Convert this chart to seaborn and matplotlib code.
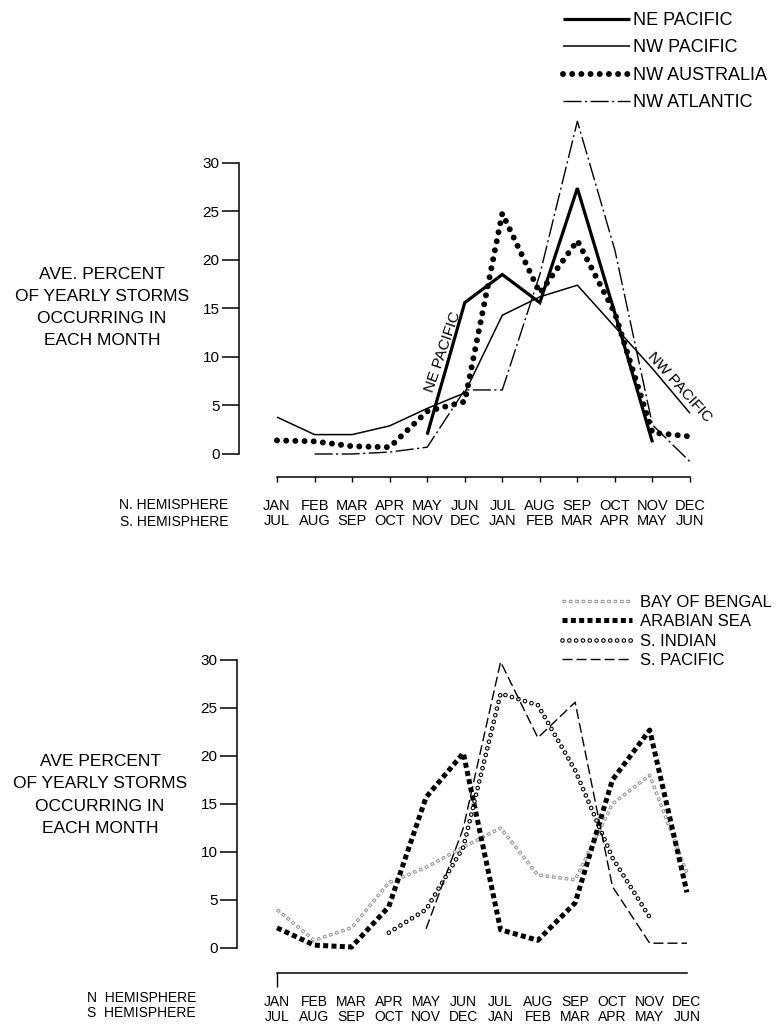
import numpy as np
import pandas as pd
import matplotlib
matplotlib.use("Agg")
import matplotlib.pyplot as plt
import seaborn as sns

nan = np.nan

# Month labels for the two hemispheres (southern season offset by six months)
months_north = ["JAN", "FEB", "MAR", "APR", "MAY", "JUN",
                "JUL", "AUG", "SEP", "OCT", "NOV", "DEC"]
months_south = ["JUL", "AUG", "SEP", "OCT", "NOV", "DEC",
                "JAN", "FEB", "MAR", "APR", "MAY", "JUN"]

# Average percent of yearly storms occurring in each month
ne_pacific = [nan, nan, nan, nan, 2.0, 15.6, 18.5, 15.6, 27.4, 14.5, 1.2, nan]
nw_pacific = [3.8, 2.0, 2.0, 2.9, 4.7, 6.3, 14.3, 16.2, 17.4, 13.1, 8.8, 4.2]
nw_australia = [1.4, 1.3, 0.8, 0.7, 4.4, 5.4, 24.8, 16.6, 22.0, 14.5, 2.2, 1.8]
nw_atlantic = [nan, 0.0, 0.0, 0.2, 0.7, 6.6, 6.6, 18.5, 34.3, 21.0, 3.0, -0.8]

bay_of_bengal = [4.0, 0.8, 2.1, 6.8, 8.4, 10.5, 12.5, 7.6, 7.1, 15.0, 18.0, 7.8]
arabian_sea = [2.1, 0.3, 0.1, 4.3, 15.7, 20.3, 1.9, 0.8, 4.7, 17.5, 22.7, 5.8]
s_indian = [nan, nan, nan, 1.6, 4.0, 10.5, 26.5, 25.3, 18.5, 9.4, 3.2, nan]
s_pacific = [nan, nan, nan, nan, 2.0, 12.5, 29.8, 21.9, 25.6, 6.4, 0.5, 0.5]

y_ticks = [0, 5, 10, 15, 20, 25, 30]

sns.set_theme(style="ticks")
plt.rcParams["font.family"] = ["Liberation Sans", "DejaVu Sans"]
plt.rcParams["lines.scale_dashes"] = False
plt.rcParams["lines.solid_capstyle"] = "butt"
plt.rcParams["lines.solid_joinstyle"] = "miter"
plt.rcParams["axes.edgecolor"] = "black"
plt.rcParams["xtick.color"] = "black"
plt.rcParams["ytick.color"] = "black"
plt.rcParams["text.color"] = "black"

W, H = 778, 1029
fig = plt.figure(figsize=(W / 100, H / 100), dpi=100)
fig.patch.set_facecolor("white")


def px_axes(left, top, right, bottom):
    return fig.add_axes([left / W, 1 - bottom / H, (right - left) / W, (bottom - top) / H])


def draw(ax, values, **kw):
    df = pd.DataFrame({"month": np.arange(12), "pct": values}).dropna()
    sns.lineplot(data=df, x="month", y="pct", ax=ax, estimator=None, sort=False,
                 legend=False, **kw)
    return ax.lines[-1]


def style_axes(ax, xlim, ylim, xpad, tick_len, linespacing, xsize):
    ax.set_xlim(*xlim)
    ax.set_ylim(*ylim)
    ax.set_facecolor("white")
    for side in ("top", "right"):
        ax.spines[side].set_visible(False)
    ax.spines["left"].set_bounds(0, 30)
    ax.spines["bottom"].set_bounds(0, 11)
    for side in ("left", "bottom"):
        ax.spines[side].set_linewidth(1.1)
    ax.set_yticks(y_ticks)
    ax.set_yticklabels([str(t) for t in y_ticks])
    ax.tick_params(axis="y", length=12, width=1.1, pad=2, labelsize=11)
    ax.set_xticks(range(12))
    ax.set_xticklabels([f"{n}\n{s}" for n, s in zip(months_north, months_south)],
                       linespacing=linespacing)
    ax.tick_params(axis="x", length=tick_len, width=1.0, pad=xpad, labelsize=xsize)
    ax.set(xlabel="", ylabel="")


# ---------------- Northern-type basins ----------------
ax1 = px_axes(239, 100, 700, 477)

l_nep = draw(ax1, ne_pacific, color="black", linewidth=2.3)
l_nwp = draw(ax1, nw_pacific, color="black", linewidth=1.1)
l_nwa = draw(ax1, nw_australia, color="black", linewidth=4.3,
             linestyle=(0, (0.01, 6.6)), dash_capstyle="round")
l_atl = draw(ax1, nw_atlantic, color="black", linewidth=1.0,
             linestyle=(0, (13, 2.5, 1.5, 2.5)))

style_axes(ax1, (-1.012, 11.266), (-2.371, 36.49), xpad=12, tick_len=3.5,
           linespacing=1.15, xsize=10.5)

ax1.text(4.42, 10.5, "NE PACIFIC", rotation=71, ha="center", va="center",
         fontsize=11, rotation_mode="anchor")
ax1.text(10.73, 6.9, "NW PACIFIC", rotation=-48, ha="center", va="center",
         fontsize=11, rotation_mode="anchor")

ax1.legend([l_nep, l_nwp, l_nwa, l_atl],
           ["NE PACIFIC", "NW PACIFIC", "NW AUSTRALIA", "NW ATLANTIC"],
           loc="upper left", bbox_to_anchor=(563 / W, 1 - 12 / H),
           bbox_transform=fig.transFigure, frameon=False, fontsize=13,
           handlelength=3.7, handletextpad=0.17, labelspacing=0.58,
           borderpad=0, borderaxespad=0)

fig.text(102 / W, 1 - 307.5 / H,
         "AVE. PERCENT\nOF YEARLY STORMS\nOCCURRING IN\nEACH MONTH",
         ha="center", va="center", fontsize=12.5, linespacing=1.6)
fig.text(228 / W, 1 - 513.5 / H, "N. HEMISPHERE\nS. HEMISPHERE",
         ha="right", va="center", fontsize=10, linespacing=1.2)

# ---------------- Southern-type basins ----------------
ax2 = px_axes(237, 640, 700, 973)

l_bob_o = draw(ax2, bay_of_bengal, color="#909090", linewidth=2.4,
               linestyle=(0, (2.6, 2.0)))
l_bob_i = draw(ax2, bay_of_bengal, color="white", linewidth=1.0,
               linestyle=(4.0, (1.4, 3.2)))
l_ara = draw(ax2, arabian_sea, color="black", linewidth=3.6,
             linestyle=(0, (3.6, 2.4)))
l_sin_o = draw(ax2, s_indian, color="black", linewidth=3.4,
               linestyle=(0, (0.01, 4.9)), dash_capstyle="round")
l_sin_i = draw(ax2, s_indian, color="white", linewidth=1.8,
               linestyle=(0, (0.01, 4.9)), dash_capstyle="round")
l_spa = draw(ax2, s_pacific, color="black", linewidth=1.0,
             linestyle=(0, (7.2, 2.9)))

style_axes(ax2, (-1.073, 11.35), (-2.604, 32.08), xpad=16, tick_len=0,
           linespacing=1.05, xsize=10)
ax2.xaxis.remove_overlapping_locs = False
ax2.set_xticks([0], minor=True)
ax2.tick_params(axis="x", which="minor", length=10, width=1.0)

ax2.legend([(l_bob_o, l_bob_i), l_ara, (l_sin_o, l_sin_i), l_spa],
           ["BAY OF BENGAL", "ARABIAN SEA", "S. INDIAN", "S. PACIFIC"],
           loc="upper left", bbox_to_anchor=(562 / W, 1 - 595 / H),
           bbox_transform=fig.transFigure, frameon=False, fontsize=12,
           handlelength=4.2, handletextpad=0.45, labelspacing=0.26,
           borderpad=0, borderaxespad=0)

fig.text(100 / W, 1 - 795 / H,
         "AVE PERCENT\nOF YEARLY STORMS\nOCCURRING IN\nEACH MONTH",
         ha="center", va="center", fontsize=12.5, linespacing=1.6)
fig.text(196 / W, 1 - 1005.5 / H, "N  HEMISPHERE\nS  HEMISPHERE",
         ha="right", va="center", fontsize=10, linespacing=1.1)

fig.savefig("out.png", dpi=100, facecolor="white")
